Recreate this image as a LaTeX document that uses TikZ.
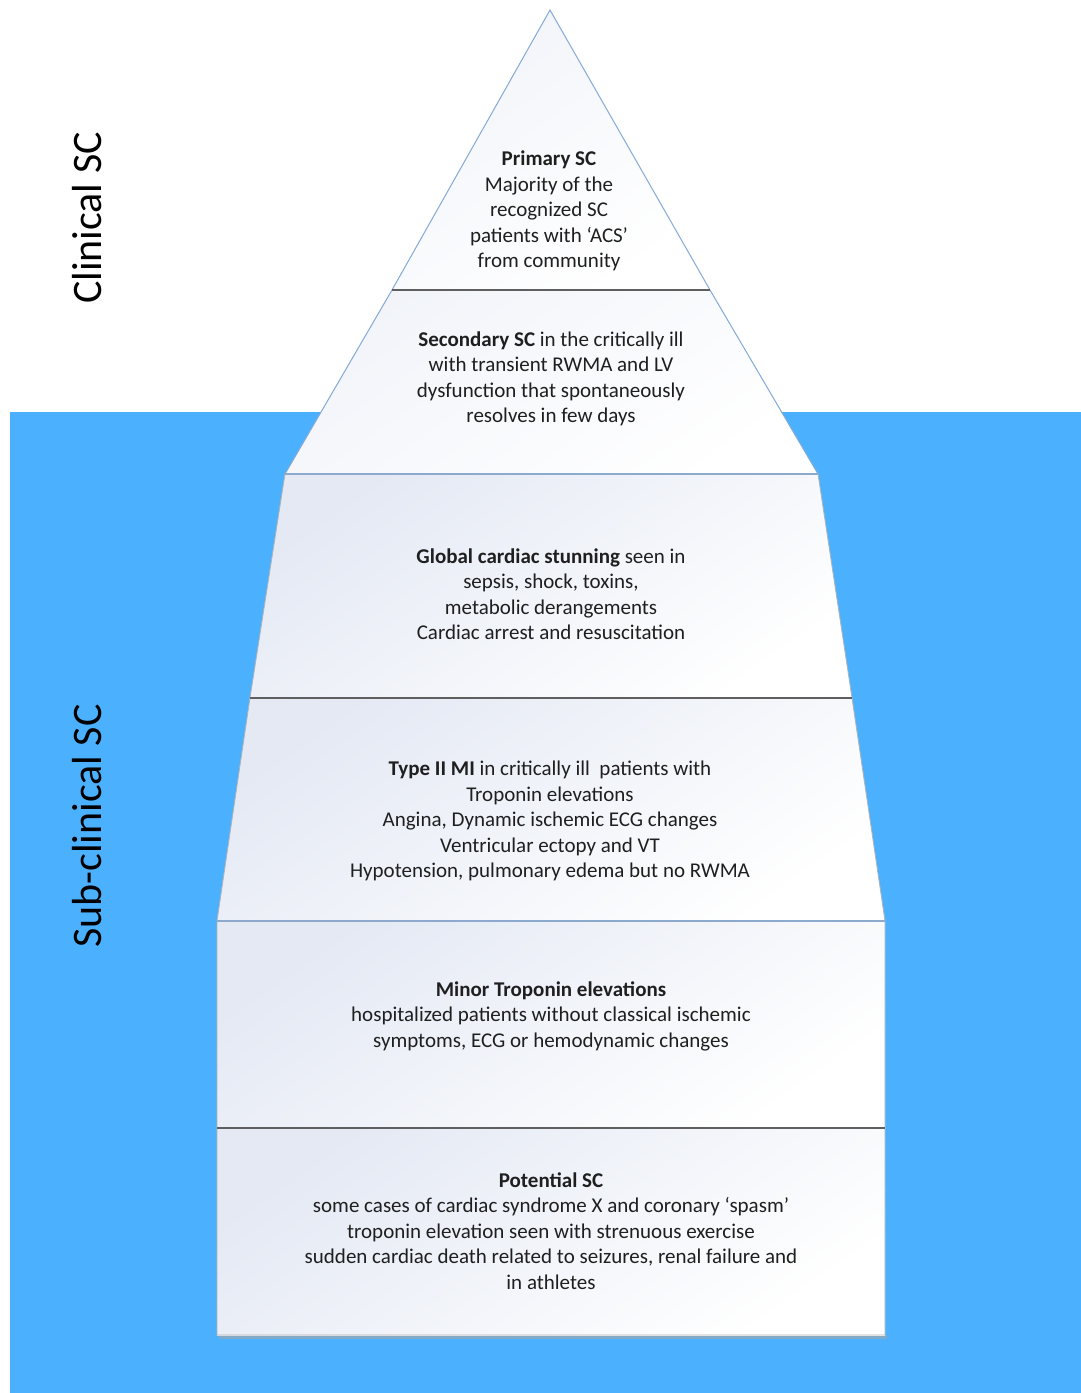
\documentclass[tikz,border=0pt]{standalone}
\usepackage{fontspec}
\setmainfont{Carlito}
\definecolor{sea}{RGB}{75,177,255}
\definecolor{edgeblue}{RGB}{130,170,215}
\definecolor{sepgrey}{RGB}{95,95,95}
\definecolor{sepblue}{RGB}{140,170,205}
\definecolor{tint}{RGB}{228,233,244}
\tikzset{
  layer/.style={top color=tint, bottom color=white, shading angle=35},
  layerlight/.style={top color=tint!50, bottom color=white, shading angle=35},
  outline/.style={draw=edgeblue, line width=1pt},
  sepdark/.style={draw=sepgrey, line width=1.6pt},
  seplight/.style={draw=sepblue, line width=1.2pt},
  body/.style={align=center, text=black!88, font=\fontsize{21}{25.5}\selectfont},
  side/.style={rotate=90, text=black, font=\fontsize{42}{44}\selectfont}
}
\begin{document}
\begin{tikzpicture}[x=1pt,y=-1pt]
\useasboundingbox (0,0) rectangle (1081,1393);
% water
\fill[sea] (10,412) rectangle (1081,1393);
% corner coordinates
\coordinate (apex) at (550,10);
\coordinate (a1) at (392,290); \coordinate (b1) at (710,290);
\coordinate (a2) at (285,474); \coordinate (b2) at (818,474);
\coordinate (a3) at (250,698); \coordinate (b3) at (852,698);
\coordinate (a4) at (217,921); \coordinate (b4) at (885,921);
\coordinate (a5) at (217,1128); \coordinate (b5) at (885,1128);
\coordinate (a6) at (217,1335); \coordinate (b6) at (885,1335);
% shadow of the base
\fill[black!35, opacity=0.6] (219,1335) rectangle (887,1338.5);
% layers
\shade[layerlight] (apex) -- (b1) -- (a1) -- cycle;
\shade[layerlight] (a1) -- (b1) -- (b2) -- (a2) -- cycle;
\shade[layer] (a2) -- (b2) -- (b3) -- (a3) -- cycle;
\shade[layer] (a3) -- (b3) -- (b4) -- (a4) -- cycle;
\shade[layer] (a4) -- (b4) -- (b5) -- (a5) -- cycle;
\shade[layer] (a5) -- (b5) -- (b6) -- (a6) -- cycle;
% outlines
\draw[outline] (a2) -- (a1) -- (apex) -- (b1) -- (b2);
\draw[draw=black!30, line width=0.8pt] (a2) -- (a3) -- (a4) -- (a6) -- (b6) -- (b4) -- (b3) -- (b2);
% separators
\draw[sepdark] (a1) -- (b1);
\draw[seplight] (a2) -- (b2);
\draw[sepdark] (a3) -- (b3);
\draw[seplight] (a4) -- (b4);
\draw[sepdark] (a5) -- (b5);
% texts
\node[body] (t1) at (549,211) {\textbf{Primary SC}\\Majority of the\\recognized SC\\patients with ‘ACS’\\from community};
\node[body] (t2) at (551,379) {\textbf{Secondary SC} in the critically ill\\with transient RWMA and LV\\dysfunction that spontaneously\\resolves in few days};
\node[body] (t3) at (551,594) {\textbf{Global cardiac stunning} seen in\\sepsis, shock, toxins,\\metabolic derangements\\Cardiac arrest and resuscitation};
\node[body] (t4) at (550,821) {\textbf{Type II MI} in critically ill\ \ patients with\\Troponin elevations\\Angina, Dynamic ischemic ECG changes\\Ventricular ectopy and VT\\Hypotension, pulmonary edema but no RWMA};
\node[body] (t5) at (551,1016) {\textbf{Minor Troponin elevations}\\hospitalized patients without classical ischemic\\symptoms, ECG or hemodynamic changes};
\node[body] (t6) at (551,1231) {\textbf{Potential SC}\\some cases of cardiac syndrome X and coronary ‘spasm’\\troponin elevation seen with strenuous exercise\\sudden cardiac death related to seizures, renal failure and\\in athletes};
% side labels
\node[side] (clin) at (87,218) {Clinical SC};
\node[side] (sub) at (87,826) {Sub-clinical SC};
\end{tikzpicture}
\end{document}
